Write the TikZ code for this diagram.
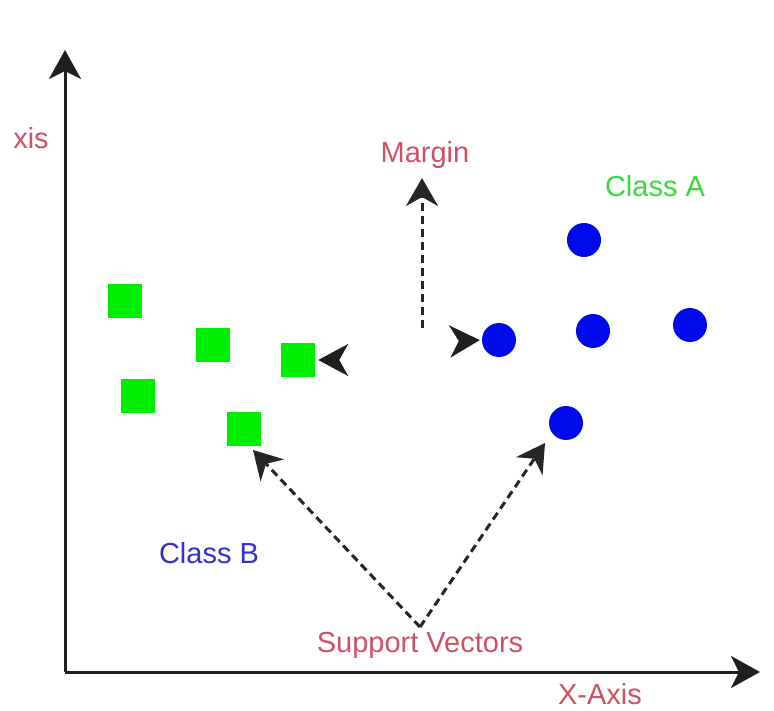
\documentclass[tikz,border=0pt]{standalone}
\usepackage{fontspec}
\setmainfont{Liberation Sans}
\usetikzlibrary{arrows.meta}
\definecolor{lblred}{RGB}{205,82,98}
\definecolor{lblgreen}{RGB}{60,215,60}
\definecolor{lblblue}{RGB}{50,50,205}
\definecolor{ptgreen}{RGB}{0,238,0}
\definecolor{ptblue}{RGB}{0,10,235}
\tikzset{
  lbl/.style={inner sep=0pt, font=\fontsize{29}{34}\selectfont},
  sqpt/.style={rectangle, fill=ptgreen, minimum size=34pt, inner sep=0pt},
  cpt/.style={circle, fill=ptblue, minimum size=34pt, inner sep=0pt},
  axis/.style={line width=3pt, color=black!88, -{Stealth[length=29pt, width=32pt, inset=8pt]}},
  ptr/.style={line width=3pt, color=black!85, dash pattern=on 8pt off 5pt, -{Stealth[length=28pt, width=32pt, inset=9pt]}},
  tipptr/.style={line width=3pt, color=black!88, -{Stealth[length=30pt, width=32pt, inset=9pt]}}
}
\begin{document}
\begin{tikzpicture}[x=1pt, y=-1pt]
  \fill[white] (0,0) rectangle (774,711);
  \useasboundingbox (0,0) rectangle (774,711);

  % axes
  \coordinate (origin) at (65,672);
  \coordinate (ytip) at (65,50);
  \coordinate (xtip) at (760,672);
  \draw[axis] (origin) -- (ytip);
  \draw[axis] (origin) -- (xtip);
  \node[lbl, text=lblred] (ylbl) at (31,138) {xis};
  \node[lbl, text=lblred] (xlbl) at (600,694) {X-Axis};

  % class B points
  \node[sqpt] (s1) at (125,301) {};
  \node[sqpt] (s2) at (213,345) {};
  \node[sqpt] (s3) at (298,360) {};
  \node[sqpt] (s4) at (138,396) {};
  \node[sqpt] (s5) at (244,429) {};

  % class A points
  \node[cpt] (c1) at (584,240) {};
  \node[cpt] (c2) at (499,340) {};
  \node[cpt] (c3) at (593,331) {};
  \node[cpt] (c4) at (690,325) {};
  \node[cpt] (c5) at (566,423) {};

  % labels
  \node[lbl, text=lblred] (margin) at (425,155) {Margin};
  \node[lbl, text=lblgreen] (clsA) at (655,186) {Class A};
  \node[lbl, text=lblblue] (clsB) at (209,553) {Class B};
  \node[lbl, text=lblred] (sv) at (420,645) {Support Vectors};

  % margin pointers (only the heads show)
  \coordinate (mbase) at (422,328);
  \coordinate (mtip) at (422,178);
  \draw[ptr] (mbase) -- (mtip);
  \coordinate (lstart) at (337,360);
  \draw[tipptr, shorten >=3pt] (lstart) -- (s3.east);
  \coordinate (rstart) at (460,341);
  \draw[tipptr, shorten >=2pt] (rstart) -- (c2.west);

  % support vector pointers
  \coordinate (apex) at (420,627);
  \coordinate (svl) at (253,450);
  \coordinate (svr) at (545,443);
  \draw[ptr] (apex) -- (svl);
  \draw[ptr] (apex) -- (svr);
\end{tikzpicture}
\end{document}
